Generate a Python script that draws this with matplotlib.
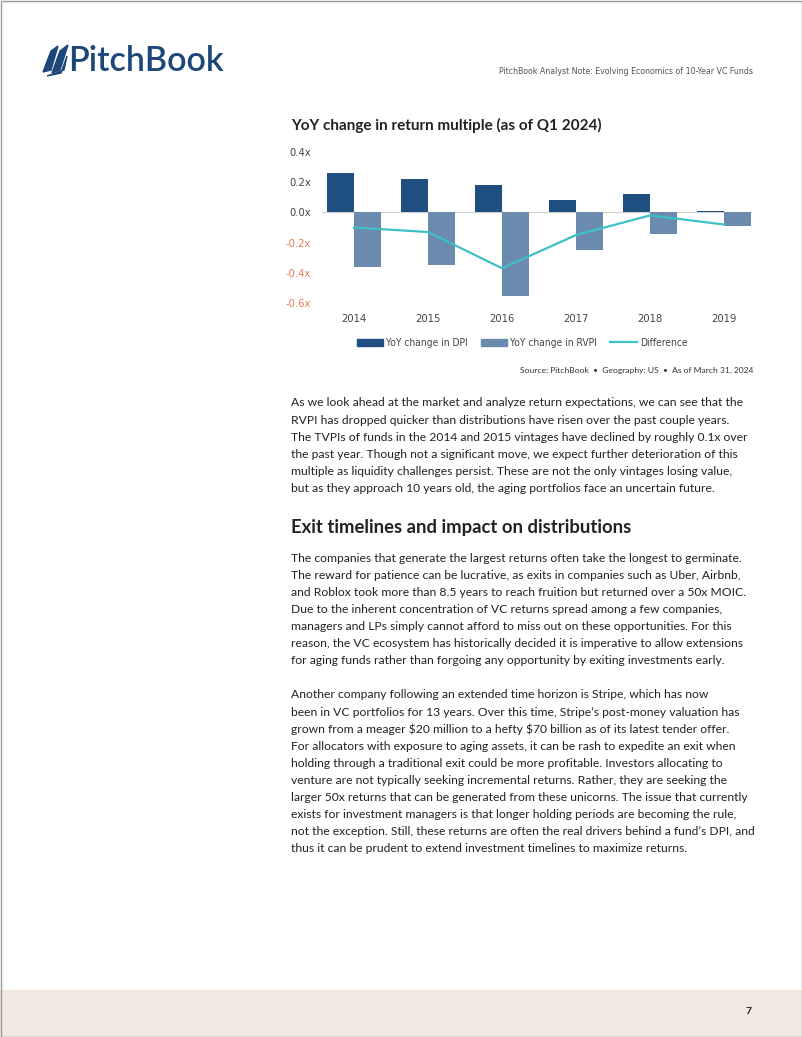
import matplotlib.pyplot as plt
from matplotlib.patches import Rectangle, Polygon
from matplotlib.lines import Line2D
import numpy as np

# --- chart data ---
years = ["2014", "2015", "2016", "2017", "2018", "2019"]
dpi_change = [0.26, 0.22, 0.18, 0.085, 0.12, 0.01]
rvpi_change = [-0.36, -0.35, -0.555, -0.25, -0.145, -0.09]
difference = [-0.10, -0.13, -0.37, -0.15, -0.02, -0.08]
y_ticks = [0.4, 0.2, 0.0, -0.2, -0.4, -0.6]

# --- page text ---
header_note = "PitchBook Analyst Note: Evolving Economics of 10-Year VC Funds"
chart_title = "YoY change in return multiple (as of Q1 2024)"
source_text = "Source: PitchBook  \u2022  Geography: US  \u2022  As of March 31, 2024"
para1 = [
    "As we look ahead at the market and analyze return expectations, we can see that the",
    "RVPI has dropped quicker than distributions have risen over the past couple years.",
    "The TVPIs of funds in the 2014 and 2015 vintages have declined by roughly 0.1x over",
    "the past year. Though not a significant move, we expect further deterioration of this",
    "multiple as liquidity challenges persist. These are not the only vintages losing value,",
    "but as they approach 10 years old, the aging portfolios face an uncertain future.",
]
heading = "Exit timelines and impact on distributions"
para2 = [
    "The companies that generate the largest returns often take the longest to germinate.",
    "The reward for patience can be lucrative, as exits in companies such as Uber, Airbnb,",
    "and Roblox took more than 8.5 years to reach fruition but returned over a 50x MOIC.",
    "Due to the inherent concentration of VC returns spread among a few companies,",
    "managers and LPs simply cannot afford to miss out on these opportunities. For this",
    "reason, the VC ecosystem has historically decided it is imperative to allow extensions",
    "for aging funds rather than forgoing any opportunity by exiting investments early.",
]
para3 = [
    "Another company following an extended time horizon is Stripe, which has now",
    "been in VC portfolios for 13 years. Over this time, Stripe\u2019s post-money valuation has",
    "grown from a meager \\$20 million to a hefty \\$70 billion as of its latest tender offer.",
    "For allocators with exposure to aging assets, it can be rash to expedite an exit when",
    "holding through a traditional exit could be more profitable. Investors allocating to",
    "venture are not typically seeking incremental returns. Rather, they are seeking the",
    "larger 50x returns that can be generated from these unicorns. The issue that currently",
    "exists for investment managers is that longer holding periods are becoming the rule,",
    "not the exception. Still, these returns are often the real drivers behind a fund\u2019s DPI, and",
    "thus it can be prudent to extend investment timelines to maximize returns.",
]

W, H = 802, 1037
NAVY = "#1d4679"
DPI_COL = "#1f4e80"
RVPI_COL = "#6a8bae"
LINE_COL = "#3ec0c6"
NEG_COL = "#e77a55"
TEXT_COL = "#222222"
BODY_FONT = ["Lato", "DejaVu Sans"]
COND_FONT = ["DejaVu Sans"]

fig = plt.figure(figsize=(W / 100, H / 100), dpi=100)
page = fig.add_axes([0, 0, 1, 1])
page.set_xlim(0, W)
page.set_ylim(H, 0)
page.axis("off")

# page frame + footer band
page.add_patch(Rectangle((0, 990), W, 47, color="#f1e9df", zorder=0))
page.add_patch(Rectangle((0.5, 0.5), W - 1, H - 1, fill=False, ec="#9a9a9a", lw=1))
page.text(752, 1012, "7", ha="right", va="center", fontsize=7.5, fontweight="bold",
          color=TEXT_COL, family=BODY_FONT)

# logo
page.add_patch(Polygon([(43, 72), (51, 51), (58, 46), (51, 70)], color=NAVY))
page.add_patch(Polygon([(52, 73), (60, 51), (68, 45), (60, 70)], color=NAVY))
page.add_patch(Polygon([(47, 76), (61, 73), (67, 56), (64, 70)], color=NAVY))
page.text(68, 61, "PitchBook", ha="left", va="center", fontsize=24.5, fontweight="semibold",
          color=NAVY, family=BODY_FONT)
page.text(753, 72, header_note, ha="right", va="center", fontsize=6.3, color="#555555",
          family=COND_FONT, stretch="condensed")

# chart title and source
page.text(291, 125, chart_title, ha="left", va="center", fontsize=11, fontweight="bold",
          color=TEXT_COL, family=BODY_FONT)
page.text(753, 370, source_text, ha="right", va="center", fontsize=6.1, color="#333333",
          family=BODY_FONT)

# body text
for i, line in enumerate(para1):
    page.text(291, 403 + i * 17.2, line, ha="left", va="center", fontsize=8.7,
              color=TEXT_COL, family=BODY_FONT)
page.text(291, 527, heading, ha="left", va="center", fontsize=13.3, fontweight="bold",
          color=TEXT_COL, family=BODY_FONT)
for i, line in enumerate(para2):
    page.text(291, 558 + i * 17.1, line, ha="left", va="center", fontsize=8.7,
              color=TEXT_COL, family=BODY_FONT)
for i, line in enumerate(para3):
    page.text(291, 695 + i * 17.1, line, ha="left", va="center", fontsize=8.7,
              color=TEXT_COL, family=BODY_FONT)

# --- chart axes ---
x0, x1, ytop, ybot = 322, 752, 152, 303
ax = fig.add_axes([x0 / W, 1 - ybot / H, (x1 - x0) / W, (ybot - ytop) / H])
ax.patch.set_alpha(0)
step = 74.0
ax.set_xlim((x0 - 354) / step, (x1 - 354) / step)
ax.set_ylim(-0.6, 0.4)
x = np.arange(len(years))
bw = 27 / step
ax.bar(x - bw / 2, dpi_change, width=bw, color=DPI_COL, zorder=2)
ax.bar(x + bw / 2, rvpi_change, width=bw, color=RVPI_COL, zorder=2)
ax.axhline(0, color="#d0d0d0", lw=0.8, zorder=1)
ax.plot(x, difference, color=LINE_COL, lw=1.6, zorder=3)
for s in ax.spines.values():
    s.set_visible(False)
ax.set_yticks(y_ticks)
ax.set_yticklabels([f"{v:.1f}x" for v in y_ticks], family=COND_FONT, stretch="condensed",
                   fontsize=8)
for lab, v in zip(ax.get_yticklabels(), y_ticks):
    lab.set_color(NEG_COL if v < 0 else "#444444")
ax.set_xticks(x)
ax.set_xticklabels(years, family=COND_FONT, stretch="condensed", fontsize=8, color="#444444")
ax.tick_params(length=0, pad=8)
ax.tick_params(axis="y", pad=8)

handles = [Rectangle((0, 0), 1, 1, color=DPI_COL), Rectangle((0, 0), 1, 1, color=RVPI_COL),
           Line2D([], [], color=LINE_COL, lw=1.6)]
leg = fig.legend(handles, ["YoY change in DPI", "YoY change in RVPI", "Difference"],
                 loc="center", bbox_to_anchor=(522 / W, 1 - 343 / H), ncol=3, frameon=False,
                 prop={"family": COND_FONT, "stretch": "condensed", "size": 7.3},
                 handlelength=2.6, handleheight=0.7, handletextpad=0.3, columnspacing=1.3)
for t in leg.get_texts():
    t.set_color("#444444")

fig.savefig("out.png", dpi=100)
